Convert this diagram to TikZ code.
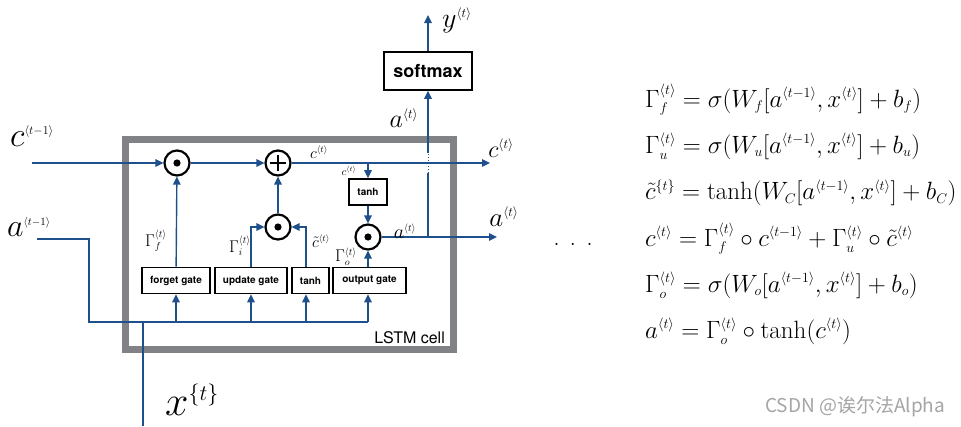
\RequirePackage{fix-cm}
\documentclass[tikz,border=0pt]{standalone}
\usepackage{amsmath}
\usepackage{fontspec}
\newfontfamily\hfont{TeX Gyre Heros}
\newfontfamily\cjkfont{Noto Sans CJK SC}
\usetikzlibrary{arrows.meta}
\definecolor{lblue}{RGB}{30,80,140}
\definecolor{cellgray}{RGB}{128,130,134}
\definecolor{wmgray}{RGB}{165,165,165}
\DeclareMathSizes{34}{34}{12}{9}
\DeclareMathSizes{32}{32}{11}{8}
\DeclareMathSizes{25}{25}{14}{10}
\DeclareMathSizes{27}{27}{13}{9}
\DeclareMathSizes{26}{26}{13}{9}
\DeclareMathSizes{28}{28}{13}{9}
\DeclareMathSizes{42}{42}{22}{16}
\DeclareMathSizes{16}{16}{9}{7}
\DeclareMathSizes{17}{17}{10}{7}
\DeclareMathSizes{11}{11}{7}{5}
\DeclareMathSizes{20}{20}{10}{7}
\DeclareMathSizes{24}{24}{13}{9}
\newcommand\fs[1]{\fontsize{#1}{#1}\selectfont}
\begin{document}
\begin{tikzpicture}[x=1pt,y=-1pt,
 flow/.style={draw=lblue,line width=1.4pt,-{Triangle[length=8pt,width=7.5pt]}},
 wire/.style={draw=lblue,line width=1.4pt},
 gate/.style={draw=black,line width=1.6pt,fill=white,inner sep=0pt,minimum height=26pt,font=\hfont\bfseries\fs{10}},
 op/.style={circle,draw=black,line width=2.2pt,fill=white,minimum size=25pt,inner sep=0pt},
 lab/.style={inner sep=0pt,text=black}]
\useasboundingbox (0,0) rectangle (961,426);
\fill[white] (0,0) rectangle (961,426);
% cell
\node[draw=cellgray,line width=7pt,minimum width=328pt,minimum height=210pt,inner sep=0pt] (cell) at (289,244) {};
\node[lab,font=\hfont\fs{16},anchor=east] (celllab) at (445,338) {LSTM cell};
% labels under shapes
\node[lab,font=\fs{17}] (lgo) at (346,257) {$\Gamma_o^{\langle t\rangle}$};
% gates
\node[gate,minimum width=68pt] (forget) at (176,280.5) {forget gate};
\node[gate,minimum width=72pt] (update) at (251,280.5) {update gate};
\node[gate,minimum width=37pt] (tanhA) at (310.5,280.5) {tanh};
\node[gate,minimum width=73pt] (outg) at (369.5,280.5) {output gate};
\node[gate,minimum width=38pt] (tanhB) at (368,192) {tanh};
\node[gate,minimum width=88pt,minimum height=38pt,font=\hfont\bfseries\fs{18}] (soft) at (428,71) {softmax};
% operators
\node[op] (m1) at (177,163) {};
\node[op] (plus) at (278,163) {};
\node[op] (m2) at (278,227) {};
\node[op] (m3) at (368,237) {};
\foreach \n in {m1,m2,m3} \fill (\n) circle (3.6pt);
\draw[line width=1.6pt] ([xshift=-8pt]plus.center) -- ([xshift=8pt]plus.center);
\draw[line width=1.6pt] ([yshift=-8pt]plus.center) -- ([yshift=8pt]plus.center);
% coordinates
\coordinate (cin) at (32,163);
\coordinate (cout) at (490,163);
\coordinate (br) at (368,163);
\coordinate (aout) at (497,237);
\coordinate (vj) at (428,237);
\coordinate (vlo) at (428,173);
\coordinate (vhi) at (428,153);
\coordinate (ytip) at (428,15);
\coordinate (ain) at (37,239);
\coordinate (abend) at (89,239);
\coordinate (bbend) at (89,322);
\coordinate (busend) at (368,322);
\coordinate (xin) at (143,426);
\coordinate (tAn) at ([xshift=-4.5pt]tanhA.north);
\coordinate (tAs) at ([xshift=-4.5pt]tanhA.south);
\coordinate (oN) at (outg.north -| m3);
\coordinate (oS) at (outg.south -| m3);
% cell-state line
\draw[flow] (cin) -- (m1);
\draw[flow] (m1) -- (plus);
\draw[flow] (plus) -- (cout);
\draw[flow] (br) -- (tanhB);
\draw[flow] (tanhB) -- (m3);
\draw[flow] (oN) -- (m3);
\draw[flow] (m3) -- (aout);
\draw[wire] (vj) -- (vlo);
\draw[lblue,line width=0.9pt,dash pattern=on 1.5pt off 1.5pt] (vlo) -- (vhi);
\draw[flow] (vhi) -- (soft);
\draw[flow] (soft) -- (ytip);
% gates to ops
\draw[flow] (forget) -- (m1);
\draw[flow] (update.north) |- (m2.west);
\draw[flow] (tAn) |- (m2.east);
\draw[flow] (m2) -- (plus);
% input bus
\draw[wire] (ain) -- (abend) -- (bbend) -- (busend);
\draw[wire] (xin) -- (xin |- bbend);
\draw[flow] (forget.south |- bbend) -- (forget.south);
\draw[flow] (update.south |- bbend) -- (update.south);
\draw[flow] (tAs |- bbend) -- (tAs);
\draw[flow] (busend) -- (oS);
% labels
\node[lab,font=\fs{34}] (lcprev) at (32,136) {$c^{\langle t-1\rangle}$};
\node[lab,font=\fs{32}] (laprev) at (29,227) {$a^{\langle t-1\rangle}$};
\node[lab,font=\fs{24}] (lcout) at (501,148) {$c^{\langle t\rangle}$};
\node[lab,font=\fs{27}] (laout) at (504,217) {$a^{\langle t\rangle}$};
\node[lab,font=\fs{26}] (laup) at (404,118) {$a^{\langle t\rangle}$};
\node[lab,font=\fs{28}] (ly) at (457,20) {$y^{\langle t\rangle}$};
\node[lab,font=\fs{42}] (lx) at (192,400) {$x^{\{t\}}$};
\node[lab,font=\fs{16}] (lcmid) at (319,152) {$c^{\langle t\rangle}$};
\node[lab,font=\fs{11}] (lcsm) at (349,171) {$c^{\langle t\rangle}$};
\node[lab,font=\fs{20}] (lasm) at (405,231) {$a^{\langle t\rangle}$};
\node[lab,font=\fs{17}] (lgf) at (156,241) {$\Gamma_f^{\langle t\rangle}$};
\node[lab,font=\fs{17}] (lgi) at (240,246) {$\Gamma_i^{\langle t\rangle}$};
\node[lab,font=\fs{16}] (lct) at (321,241) {$\tilde c^{\langle t\rangle}$};
% dots
\node[lab,anchor=base,font=\fs{26}] (dots) at (573,245) {.\hspace{10pt}.\hspace{10pt}.};
% equations
\node[lab,anchor=base west,font=\fs{25}] (eq1) at (645,107) {$\Gamma_f^{\langle t\rangle} = \sigma(W_f[a^{\langle t-1\rangle},x^{\langle t\rangle}]+b_f)$};
\node[lab,anchor=base west,font=\fs{25}] (eq2) at (645,153) {$\Gamma_u^{\langle t\rangle} = \sigma(W_u[a^{\langle t-1\rangle},x^{\langle t\rangle}]+b_u)$};
\node[lab,anchor=base west,font=\fs{25}] (eq3) at (645,199.5) {$\tilde c^{\{t\}} = \tanh(W_C[a^{\langle t-1\rangle},x^{\langle t\rangle}]+b_C)$};
\node[lab,anchor=base west,font=\fs{25}] (eq4) at (645,246) {$c^{\langle t\rangle} = \Gamma_f^{\langle t\rangle}\circ c^{\langle t-1\rangle} + \Gamma_u^{\langle t\rangle}\circ\tilde c^{\langle t\rangle}$};
\node[lab,anchor=base west,font=\fs{25}] (eq5) at (645,292) {$\Gamma_o^{\langle t\rangle} = \sigma(W_o[a^{\langle t-1\rangle},x^{\langle t\rangle}]+b_o)$};
\node[lab,anchor=base west,font=\fs{25}] (eq6) at (645,338) {$a^{\langle t\rangle} = \Gamma_o^{\langle t\rangle}\circ\tanh(c^{\langle t\rangle})$};
% watermark
\node[lab,anchor=west,font=\cjkfont\fs{19},text=wmgray] (wm) at (765,407) {CSDN @诶尔法Alpha};
\end{tikzpicture}
\end{document}
